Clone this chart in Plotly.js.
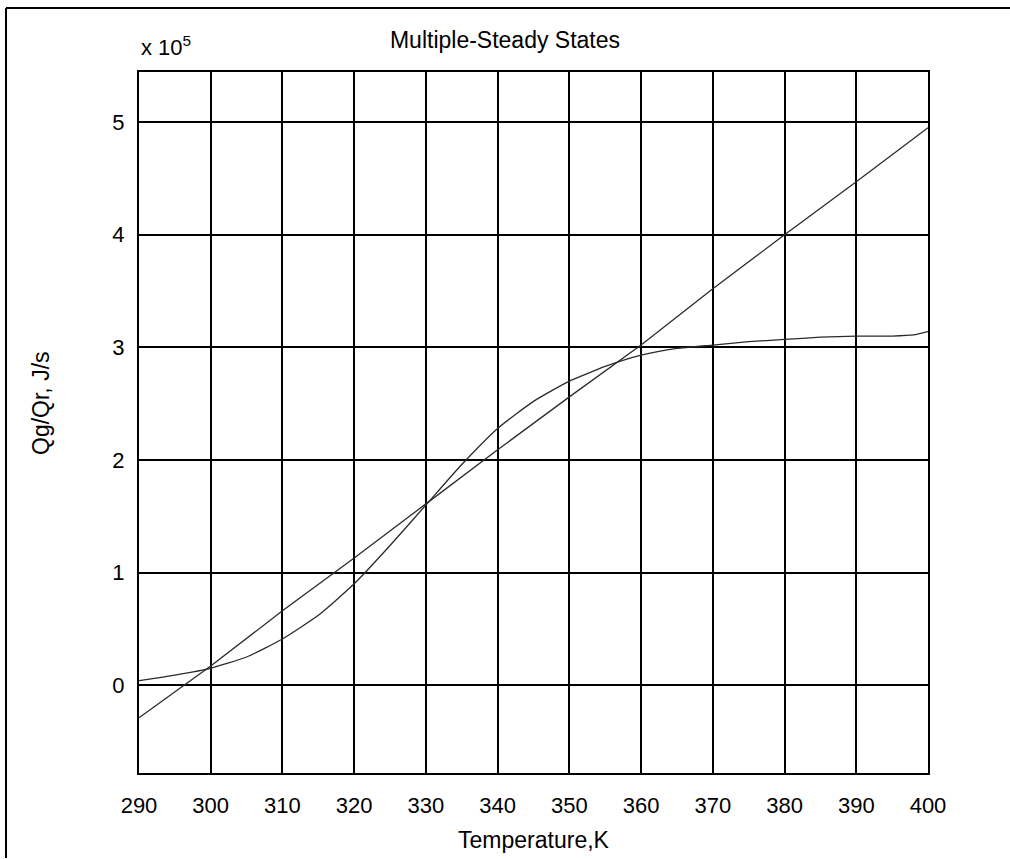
<!DOCTYPE html>
<html>
<head>
<meta charset="utf-8">
<script src="https://cdn.plot.ly/plotly-3.0.1.min.js"></script>
<style>html,body{margin:0;padding:0;background:#fff;}#chart{width:1010px;height:859px;}</style>
</head>
<body>
<div id="chart"></div>
<script>
// Values in units of 1e5 J/s
const tempLine = [290, 300, 310, 320, 330, 340, 350, 360, 370, 380, 390, 400];
const qrValues = [-0.29, 0.17, 0.66, 1.13, 1.61, 2.09, 2.56, 3.02, 3.52, 4.00, 4.47, 4.95];

const tempCurve = [290, 295, 300, 305, 310, 315, 320, 325, 330, 335, 340, 345, 350, 355, 360, 365, 370, 375, 380, 385, 390, 395, 398, 400];
const qgValues = [0.04, 0.09, 0.15, 0.25, 0.41, 0.62, 0.90, 1.24, 1.60, 1.96, 2.28, 2.52, 2.70, 2.83, 2.93, 2.99, 3.02, 3.05, 3.07, 3.09, 3.10, 3.10, 3.11, 3.14];

const xTicks = [290, 300, 310, 320, 330, 340, 350, 360, 370, 380, 390, 400];
const yTicks = [0, 1, 2, 3, 4, 5];

const W = 1010, H = 859;
const L = 139, R = 82, T = 72, B = 86;
const pw = W - L - R, ph = H - T - B;
function px2x(p){ return (p - L) / pw; }
function py2y(p){ return (H - B - p) / ph; }

const font = 'Liberation Sans, Arial, Helvetica, sans-serif';

const traces = [
  {x: tempLine, y: qrValues, mode: 'lines', line: {color: '#2a2a2a', width: 1.3}, showlegend: false, hoverinfo: 'skip'},
  {x: tempCurve, y: qgValues, mode: 'lines', line: {color: '#2a2a2a', width: 1.3, shape: 'spline', smoothing: 0.5}, showlegend: false, hoverinfo: 'skip'}
];

const layout = {
  width: W, height: H,
  margin: {l: L, r: R, t: T, b: B, pad: 0},
  paper_bgcolor: '#fff', plot_bgcolor: '#fff',
  font: {family: font, size: 22, color: '#000'},
  title: {text: 'Multiple-Steady States', font: {family: font, size: 23, color: '#000'}, x: 0.5, xanchor: 'center', y: 1 - 40/H, yanchor: 'middle'},
  xaxis: {
    range: [290, 400], tickvals: xTicks, ticktext: xTicks.map(String),
    showgrid: true, gridcolor: '#000', gridwidth: 2,
    showline: true, linecolor: '#000', linewidth: 2, mirror: true,
    zeroline: false, ticks: '', ticklabelstandoff: 12,
    tickfont: {family: font, size: 22, color: '#000'},
    title: {text: 'Temperature,K', font: {family: font, size: 23, color: '#000'}, standoff: 14}
  },
  yaxis: {
    range: [-0.78, 5.445], tickvals: yTicks, ticktext: yTicks.map(String),
    showgrid: true, gridcolor: '#000', gridwidth: 2,
    showline: true, linecolor: '#000', linewidth: 2, mirror: true,
    zeroline: false, ticks: '', ticklabelstandoff: 8,
    tickfont: {family: font, size: 22, color: '#000'}
  },
  annotations: [
    {xref: 'paper', yref: 'paper', x: px2x(139), y: py2y(46), xanchor: 'left', yanchor: 'middle',
     text: 'x 10<sup>5</sup>', showarrow: false, font: {family: font, size: 22, color: '#000'}},
    {xref: 'paper', yref: 'paper', x: px2x(41), y: py2y(403), xanchor: 'center', yanchor: 'middle', textangle: -90,
     text: 'Qg/Qr, J/s', showarrow: false, font: {family: font, size: 23, color: '#000'}}
  ],
  shapes: [
    {type: 'line', xref: 'paper', yref: 'paper', x0: px2x(6), x1: px2x(1010), y0: py2y(8), y1: py2y(8), line: {color: '#000', width: 2}},
    {type: 'line', xref: 'paper', yref: 'paper', x0: px2x(6), x1: px2x(6), y0: py2y(8), y1: py2y(858), line: {color: '#000', width: 2}}
  ]
};

Plotly.newPlot('chart', traces, layout, {staticPlot: true, displayModeBar: false});
</script>
</body>
</html>
